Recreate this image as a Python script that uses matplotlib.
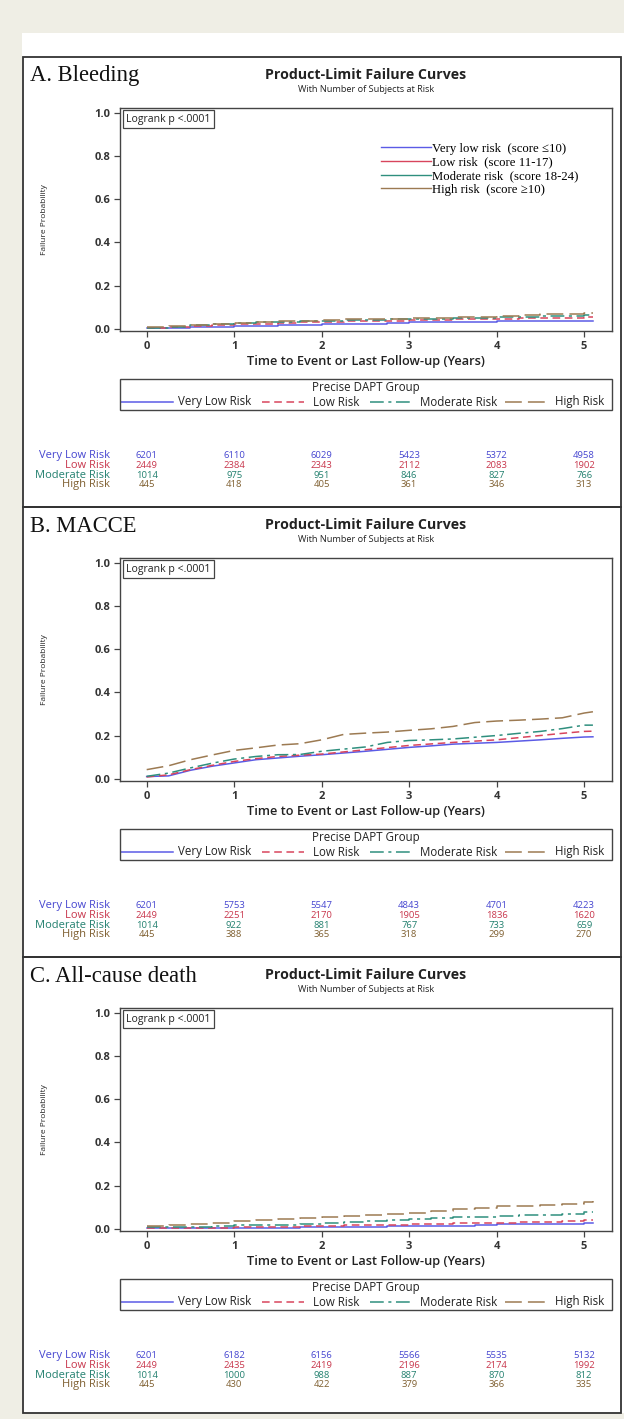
import matplotlib
matplotlib.use("Agg")
import matplotlib.pyplot as plt
from matplotlib.lines import Line2D
from matplotlib.patches import Rectangle
from matplotlib.transforms import blended_transform_factory

# ---------------- data ----------------
times = [0, 0.25, 0.5, 0.75, 1, 1.25, 1.5, 1.75, 2, 2.25, 2.5, 2.75, 3,
         3.25, 3.5, 3.75, 4, 4.25, 4.5, 4.75, 5, 5.1]

groups = ["Very Low Risk", "Low Risk", "Moderate Risk", "High Risk"]
inner_labels = ["Very low risk  (score \u226410)", "Low risk  (score 11-17)",
                "Moderate risk  (score 18-24)", "High risk  (score \u226510)"]
risk_years = [0, 1, 2, 3, 4, 5]

bleed_vl = [.001, .003, .006, .008, .011, .013, .018, .019, .021, .022, .024, .028, .029, .030, .031, .032, .035, .035, .036, .036, .037, .037]
bleed_l = [.002, .007, .012, .016, .020, .024, .027, .030, .032, .034, .036, .038, .040, .041, .043, .044, .046, .048, .050, .051, .053, .054]
bleed_m = [.003, .009, .015, .020, .025, .029, .032, .035, .037, .039, .041, .043, .045, .046, .048, .051, .054, .056, .059, .061, .064, .065]
bleed_h = [.006, .012, .018, .023, .028, .032, .035, .038, .040, .043, .045, .047, .048, .050, .052, .055, .058, .062, .066, .069, .072, .074]

macce_vl = [.010, .013, .039, .058, .073, .088, .096, .104, .111, .119, .127, .136, .145, .152, .160, .164, .168, .174, .180, .187, .193, .194]
macce_l = [.008, .018, .042, .062, .080, .093, .103, .109, .114, .124, .134, .144, .154, .161, .168, .174, .180, .190, .200, .210, .219, .220]
macce_m = [.011, .026, .050, .072, .091, .103, .111, .112, .127, .137, .147, .168, .177, .180, .184, .192, .200, .210, .219, .232, .248, .248]
macce_h = [.042, .060, .088, .110, .131, .143, .156, .162, .180, .205, .211, .216, .224, .231, .242, .260, .267, .271, .276, .282, .304, .310]

death_vl = [.002, .002, .003, .003, .004, .005, .005, .006, .007, .010, .010, .011, .012, .013, .014, .018, .020, .021, .021, .023, .025, .025]
death_l = [.003, .003, .004, .005, .006, .008, .010, .012, .014, .016, .017, .019, .020, .022, .025, .026, .028, .030, .031, .035, .042, .042]
death_m = [.006, .007, .009, .012, .015, .016, .018, .021, .025, .029, .034, .040, .045, .048, .052, .055, .058, .062, .065, .070, .077, .077]
death_h = [.014, .018, .022, .028, .034, .040, .046, .049, .052, .058, .065, .068, .071, .080, .092, .098, .103, .105, .108, .114, .122, .129]

bleed_risk_vl = [6201, 6110, 6029, 5423, 5372, 4958]
bleed_risk_l = [2449, 2384, 2343, 2112, 2083, 1902]
bleed_risk_m = [1014, 975, 951, 846, 827, 766]
bleed_risk_h = [445, 418, 405, 361, 346, 313]

macce_risk_vl = [6201, 5753, 5547, 4843, 4701, 4223]
macce_risk_l = [2449, 2251, 2170, 1905, 1836, 1620]
macce_risk_m = [1014, 922, 881, 767, 733, 659]
macce_risk_h = [445, 388, 365, 318, 299, 270]

death_risk_vl = [6201, 6182, 6156, 5566, 5535, 5132]
death_risk_l = [2449, 2435, 2419, 2196, 2174, 1992]
death_risk_m = [1014, 1000, 988, 887, 870, 812]
death_risk_h = [445, 430, 422, 379, 366, 335]

panels = [
    ("A. Bleeding", [bleed_vl, bleed_l, bleed_m, bleed_h],
     [bleed_risk_vl, bleed_risk_l, bleed_risk_m, bleed_risk_h], "steps-post"),
    ("B. MACCE", [macce_vl, macce_l, macce_m, macce_h],
     [macce_risk_vl, macce_risk_l, macce_risk_m, macce_risk_h], "default"),
    ("C. All-cause death", [death_vl, death_l, death_m, death_h],
     [death_risk_vl, death_risk_l, death_risk_m, death_risk_h], "steps-post"),
]

# ---------------- style ----------------
colors = ["#5b5be6", "#d8455c", "#2f8f7e", "#9c7a52"]
text_colors = ["#4646d0", "#c8364c", "#23806f", "#7f5f30"]
styles = ["-", (0, (5, 3)), (0, (9, 3, 2, 3)), (0, (11, 4))]
SANS = ["Open Sans", "DejaVu Sans"]
SERIF = ["Liberation Serif", "DejaVu Serif"]
AXC = "#444444"

W, H = 624, 1419
fig = plt.figure(figsize=(W / 100, H / 100), dpi=100)
fig.patch.set_facecolor("#efeee5")


def fx(x):
    return x / W


def fy(y):
    return 1 - y / H


# white inner page
fig.patches.append(Rectangle((fx(22), fy(1413)), fx(624) - fx(22), fy(33) - fy(1413),
                             transform=fig.transFigure, facecolor="white",
                             edgecolor="none", zorder=-5))

panel_tops = [57, 507, 957]
panel_bottoms = [507, 957, 1413]

# bottom legend key geometry (pixels): handle start, handle end, text start
legend_keys = [(121, 173, 178), (262, 304, 313), (370, 412, 420), (505, 547, 555)]

for (title, curves, risks, dstyle), P, PB in zip(panels, panel_tops, panel_bottoms):
    # panel frame
    fig.patches.append(Rectangle((fx(23), fy(PB)), fx(621) - fx(23), fy(P) - fy(PB),
                                 transform=fig.transFigure, facecolor="none",
                                 edgecolor="#333333", lw=1.3, zorder=1))
    fig.text(fx(30), fy(P + 19), title, family=SERIF, fontsize=16.3,
             ha="left", va="center", color="#111111")
    fig.text(fx(366), fy(P + 18), "Product-Limit Failure Curves", family=SANS,
             fontsize=10.2, fontweight="bold", ha="center", va="center", color="#222222")
    fig.text(fx(366), fy(P + 32), "With Number of Subjects at Risk", family=SANS,
             fontsize=6.6, ha="center", va="center", color="#222222")

    ax = fig.add_axes([fx(120), fy(P + 274), fx(612) - fx(120), fy(P + 51) - fy(P + 274)])
    ax.set_facecolor("white")
    ax.set_xlim(-0.305, 5.318)
    ax.set_ylim(-0.0106, 1.0218)
    for sp in ax.spines.values():
        sp.set_color(AXC)
        sp.set_linewidth(1.0)
    for vals, c, ls in zip(curves, colors, styles):
        ax.plot(times, vals, drawstyle=dstyle, color=c, linestyle=ls, lw=1.1)
    ax.set_xticks(risk_years)
    ax.set_yticks([0.0, 0.2, 0.4, 0.6, 0.8, 1.0])
    ax.set_yticklabels(["0.0", "0.2", "0.4", "0.6", "0.8", "1.0"])
    ax.tick_params(direction="out", length=4, width=0.9, color=AXC, labelsize=8,
                   labelcolor="#333333", pad=3)
    for lab in ax.get_xticklabels() + ax.get_yticklabels():
        lab.set_family(SANS)
        lab.set_fontweight("bold")
    ax.set_xlabel("Time to Event or Last Follow-up (Years)", family=SANS, fontsize=9.2,
                  fontweight="semibold", color="#222222", labelpad=2)
    fig.text(fx(45), fy(P + 163), "Failure Probability", family=SANS, fontsize=6,
             rotation=90, ha="center", va="center", color="#222222")
    ax.text(0.012, 0.975, "Logrank p <.0001", transform=ax.transAxes, family=SANS,
            fontsize=7.6, ha="left", va="top", color="#222222",
            bbox=dict(boxstyle="square,pad=0.3", facecolor="white", edgecolor=AXC, lw=0.9))

    if title.startswith("A"):
        inner_handles = [Line2D([], [], color=c, lw=1.0) for c in colors]
        fig.legend(inner_handles, inner_labels, loc="upper left",
                   bbox_to_anchor=(fx(372), fy(P + 77)), frameon=False,
                   prop={"family": SERIF, "size": 9.2}, handlelength=3.9,
                   handletextpad=0.1, labelspacing=0.13, borderpad=0.2)

    # bottom legend
    fig.patches.append(Rectangle((fx(120), fy(P + 353)), fx(612) - fx(120), fy(P + 322) - fy(P + 353),
                                 transform=fig.transFigure, facecolor="none",
                                 edgecolor=AXC, lw=1.0, zorder=2))
    fig.text(fx(366), fy(P + 331), "Precise DAPT Group", family=SANS, fontsize=8.3,
             ha="center", va="center", color="#222222")
    for (h0, h1, t0), g, c, ls in zip(legend_keys, groups, colors, styles):
        fig.lines.append(Line2D([fx(h0), fx(h1)], [fy(P + 345), fy(P + 345)],
                                transform=fig.transFigure, color=c, linestyle=ls, lw=1.1))
        fig.text(fx(t0), fy(P + 345), g, family=SANS, fontsize=8.3, ha="left",
                 va="center", color="#222222")

    # risk table
    tr = blended_transform_factory(ax.transData, fig.transFigure)
    row_y = [P + 398.5, P + 408.3, P + 418.1, P + 427.9]
    for g, ry, tc, counts in zip(groups, row_y, text_colors, risks):
        fig.text(fx(110), fy(ry), g, family=SANS, fontsize=8, ha="right",
                 va="center", color=tc)
        for yr, n in zip(risk_years, counts):
            ax.text(yr, fy(ry), str(n), transform=tr, family=SANS, fontsize=6.8,
                    ha="center", va="center", color=tc, clip_on=False)

fig.savefig("out.png", dpi=100, facecolor=fig.get_facecolor())
